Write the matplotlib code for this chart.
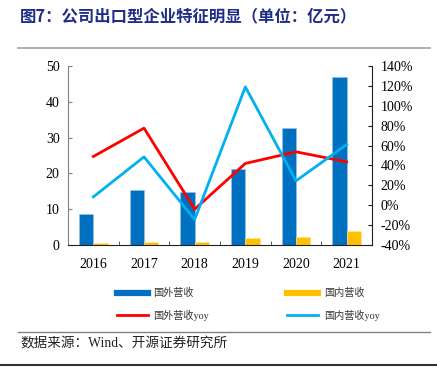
import matplotlib
matplotlib.use("Agg")
import matplotlib.pyplot as plt
import numpy as np
from matplotlib.lines import Line2D

plt.rcParams['font.family'] = ['Liberation Serif', 'Noto Sans CJK SC']

years = ["2016", "2017", "2018", "2019", "2020", "2021"]
foreign_rev = [8.7, 15.5, 14.9, 21.2, 32.7, 47.0]
domestic_rev = [0.65, 0.9, 0.85, 1.95, 2.2, 3.8]
foreign_yoy = [49, 77.5, -4, 42, 53.7, 43.6]
domestic_yoy = [8.4, 48.6, -14.4, 119, 24.5, 61]
left_ticks = [0, 10, 20, 30, 40, 50]
right_ticks = [-40, -20, 0, 20, 40, 60, 80, 100, 120, 140]

c_blue = "#0070C0"
c_yellow = "#FFC000"
c_red = "#FF0000"
c_lblue = "#00B0F0"

fig = plt.figure(figsize=(4.37, 3.67), dpi=100)
ax = fig.add_axes([68/437, 1-245/367, (372-68)/437, (245-66)/367])
x = np.arange(len(years))
w = 0.285
ax.bar(x - w/2, foreign_rev, width=w, color=c_blue, edgecolor="#9DC3E6", linewidth=0.4, zorder=2)
ax.bar(x + w/2, domestic_rev, width=w, color=c_yellow, edgecolor="#FFE699", linewidth=0.4, zorder=2)
ax.set_xlim(-0.5, len(years)-0.5)
ax.set_ylim(0, 50)
ax.set_yticks(left_ticks)
ax.set_yticklabels([str(t) for t in left_ticks], fontsize=10)
ax.set_xticks(x)
ax.set_xticklabels(years, fontsize=10)
ax.tick_params(axis='x', which='major', length=0, pad=9)
ax.set_xticks(np.arange(-0.5, len(years), 1), minor=True)
ax.tick_params(axis='x', which='minor', direction='in', length=3, color='#404040')
ax.tick_params(axis='y', direction='in', length=3, color='#808080', pad=6)
ax.spines['top'].set_visible(False)
ax.spines['left'].set_color('#808080')
ax.spines['bottom'].set_color('#202020')
ax.spines['right'].set_visible(False)

ax2 = ax.twinx()
ax2.plot(x, foreign_yoy, color=c_red, lw=2.0, zorder=3)
ax2.plot(x, domestic_yoy, color=c_lblue, lw=2.0, zorder=3)
ax2.set_ylim(-40, 140)
ax2.set_yticks(right_ticks)
ax2.set_yticklabels([f"{t}%" for t in right_ticks], fontsize=10)
ax2.tick_params(axis='y', direction='in', length=3, color='#202020', pad=6)
ax2.spines['top'].set_visible(False)
ax2.spines['left'].set_visible(False)
ax2.spines['bottom'].set_visible(False)
ax2.spines['right'].set_color('#202020')

handles = [Line2D([], [], color=c_blue, lw=4.5), Line2D([], [], color=c_yellow, lw=4.5),
           Line2D([], [], color=c_red, lw=2), Line2D([], [], color=c_lblue, lw=2)]
labels = ["国外营收", "国内营收", "国外营收yoy", "国内营收yoy"]
order = [0, 2, 1, 3]
leg = fig.legend([handles[i] for i in order], [labels[i] for i in order],
                 ncol=2, loc='upper left', bbox_to_anchor=(108/437, 1-279/367),
                 frameon=False, prop={'family': ['Liberation Serif', 'Noto Sans CJK SC'], 'size': 7.3},
                 handlelength=3.0, handletextpad=0.6, columnspacing=7.7,
                 labelspacing=1.1)
for t in leg.get_texts():
    t.set_color('#333333')

fig.text(20/437, 1-16/367, "图7：公司出口型企业特征明显（单位：亿元）", fontsize=11.8,
         fontweight='bold', color='#1F2D86', va='center', ha='left',
         family=['Noto Sans CJK SC'])
fig.add_artist(Line2D([18/437, 430/437], [1-48/367, 1-48/367], color='#A0A0A0', lw=1.2))
fig.add_artist(Line2D([18/437, 430/437], [1-332/367, 1-332/367], color='#808080', lw=1.0))
fig.add_artist(Line2D([0, 1], [1-365/367, 1-365/367], color='#303030', lw=1.5))
fig.text(20/437, 1-344/367, "数据来源：Wind、开源证券研究所", fontsize=9.8, va='center', ha='left',
         family=['Liberation Serif', 'Noto Sans CJK SC'], color='#222222')

fig.savefig("out.png", dpi=100)
